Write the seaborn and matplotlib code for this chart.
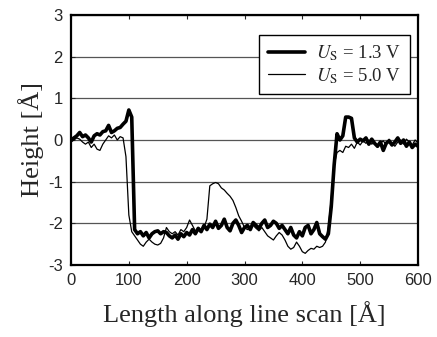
import numpy as np
import pandas as pd
import matplotlib
matplotlib.use("Agg")
import matplotlib.pyplot as plt
import seaborn as sns

# Posiciones a lo largo del barrido (Å)
length = list(range(0, 605, 5))

# Perfil a U_S = 1.3 V (línea gruesa)
height_13 = [
    0.00, 0.05, 0.10, 0.18, 0.08, 0.12, 0.05, -0.05, 0.10, 0.15,
    0.12, 0.20, 0.22, 0.35, 0.18, 0.22, 0.28, 0.30, 0.38, 0.45,
    0.72, 0.55, -2.15, -2.25, -2.20, -2.30, -2.22, -2.35, -2.25, -2.20,
    -2.18, -2.25, -2.20, -2.22, -2.30, -2.35, -2.28, -2.38, -2.25, -2.32,
    -2.22, -2.28, -2.15, -2.25, -2.12, -2.20, -2.05, -2.15, -2.02, -2.10,
    -1.95, -2.12, -2.05, -1.90, -2.10, -2.18, -2.00, -1.92, -2.05, -2.22,
    -2.10, -2.05, -2.15, -1.98, -2.05, -2.12, -2.00, -1.92, -2.10, -2.05,
    -1.95, -2.00, -2.12, -2.05, -2.15, -2.25, -2.10, -2.28, -2.35, -2.20,
    -2.30, -2.10, -2.05, -2.25, -2.15, -1.98, -2.25, -2.32, -2.38, -2.25,
    -1.60, -0.60, 0.15, 0.00, 0.10, 0.55, 0.55, 0.52, 0.05, -0.05,
    0.02, -0.02, 0.05, -0.10, 0.02, -0.08, -0.15, -0.05, -0.25, -0.08,
    -0.02, -0.12, -0.05, 0.05, -0.08, 0.00, -0.15, -0.05, -0.18, -0.10,
    -0.15,
]

# Perfil a U_S = 5.0 V (línea fina)
height_50 = [
    -0.05, 0.00, 0.05, 0.02, -0.05, -0.10, -0.05, -0.18, -0.10, -0.22,
    -0.25, -0.10, 0.00, 0.10, 0.05, 0.12, 0.00, 0.08, 0.05, -0.40,
    -1.80, -2.20, -2.30, -2.40, -2.50, -2.55, -2.45, -2.38, -2.45, -2.50,
    -2.52, -2.48, -2.35, -2.10, -2.20, -2.25, -2.20, -2.28, -2.15, -2.20,
    -2.10, -1.92, -2.05, -2.18, -2.15, -2.20, -2.10, -1.90, -1.10, -1.05,
    -1.02, -1.05, -1.15, -1.20, -1.28, -1.35, -1.45, -1.62, -1.82, -1.95,
    -2.10, -2.15, -2.10, -2.05, -2.12, -2.18, -2.10, -2.20, -2.30, -2.35,
    -2.40, -2.30, -2.22, -2.28, -2.40, -2.55, -2.62, -2.58, -2.45, -2.55,
    -2.68, -2.72, -2.65, -2.60, -2.62, -2.55, -2.58, -2.55, -2.45, -2.10,
    -1.40, -0.60, -0.30, -0.25, -0.30, -0.15, -0.18, -0.10, -0.20, -0.05,
    -0.12, -0.02, -0.08, 0.00, -0.10, -0.05, -0.18, -0.08, -0.02, -0.12,
    0.02, -0.08, -0.15, -0.05, 0.00, -0.10, 0.02, -0.05, -0.12, 0.00,
    -0.08,
]

labels = [r"$U_{\rm S}$ = 1.3 V", r"$U_{\rm S}$ = 5.0 V"]

df = pd.DataFrame({"length": length, "h13": height_13, "h50": height_50})

sns.set_style("ticks")
plt.rcParams["font.family"] = ["Liberation Sans", "DejaVu Sans"]
plt.rcParams["mathtext.fontset"] = "stix"
plt.rcParams["axes.unicode_minus"] = False

fig = plt.figure(figsize=(4.37, 3.37), dpi=100)
ax = fig.add_axes([0.1625, 0.2136, 0.794, 0.742])

sns.lineplot(data=df, x="length", y="h13", color="black", linewidth=2.6,
             label=labels[0], ax=ax)
sns.lineplot(data=df, x="length", y="h50", color="black", linewidth=0.9,
             label=labels[1], ax=ax)

ax.set_xlim(0, 600)
ax.set_ylim(-3, 3)
ax.set_xticks(range(0, 700, 100))
ax.set_yticks(range(-3, 4))
ax.yaxis.grid(True, color="#555555", linewidth=0.9)
ax.set_axisbelow(True)

for s in ax.spines.values():
    s.set_visible(True)
    s.set_linewidth(1.6)
    s.set_color("black")

ax.tick_params(direction="in", length=3, width=0.8, labelsize=12,
               top=True, right=False)
ax.tick_params(axis="x", pad=6)
ax.tick_params(axis="y", pad=6)

ax.set_xlabel("Length along line scan [Å]", family="Liberation Serif",
              fontsize=19, labelpad=9)
ax.set_ylabel("Height [Å]", family="Liberation Serif", fontsize=19,
              labelpad=3)

leg = ax.legend(loc="upper right", bbox_to_anchor=(0.977, 0.92),
                borderaxespad=0,
                prop={"family": "Liberation Serif", "size": 13.5},
                frameon=True, fancybox=False, edgecolor="black",
                framealpha=1, borderpad=0.45, handlelength=2.0,
                labelspacing=0.15, handletextpad=0.6)
leg.get_frame().set_linewidth(1.0)

fig.savefig("out.png", dpi=100)
